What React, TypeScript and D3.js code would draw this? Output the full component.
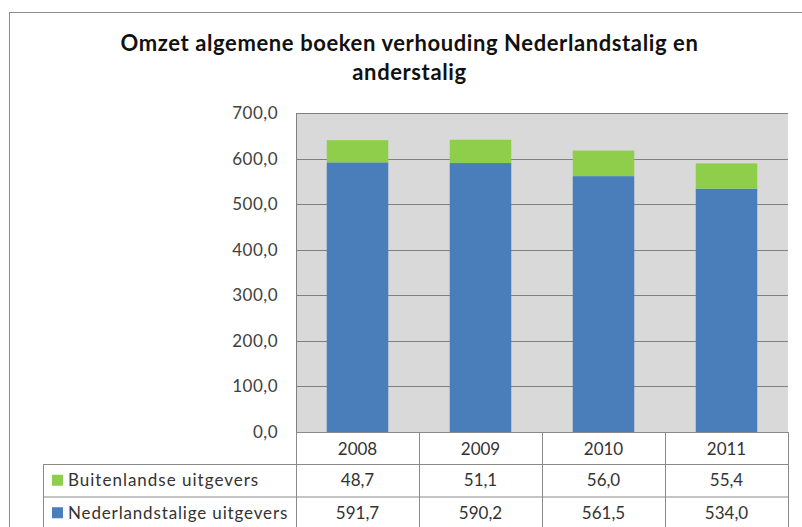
import React, { useEffect } from "react";
import * as d3 from "d3";

const years = ["2008", "2009", "2010", "2011"];
const buitenlandse = [48.7, 51.1, 56.0, 55.4];
const nederlandstalige = [591.7, 590.2, 561.5, 534.0];
const yTicks = [0, 100, 200, 300, 400, 500, 600, 700];
const titleLines = ["Omzet algemene boeken verhouding Nederlandstalig en", "anderstalig"];
const seriesNames = ["Nederlandstalige uitgevers", "Buitenlandse uitgevers"];
const seriesColors = ["#4a7ebb", "#8fce4b"];

const nl = d3.formatLocale({ decimal: ",", thousands: ".", grouping: [3], currency: ["", ""] });
const fmt = nl.format(".1f");

const W = 802;
const H = 527;
const plotL = 296;
const plotR = 788;
const plotT = 113;
const plotB = 432;
const rowTops = [432, 464, 496.5, 529];
const legendL = 43;
const FONT = "Lato, 'Open Sans', sans-serif";

export default function App() {
  useEffect(() => {
    document.body.style.margin = "0";
  }, []);

  const x = d3.scaleBand<string>().domain(years).range([plotL, plotR]).paddingInner(0.5).paddingOuter(0.25);
  const y = d3.scaleLinear().domain([0, 700]).range([plotB, plotT]);

  const rows = years.map((yr, i) => ({ year: yr, ned: nederlandstalige[i], bui: buitenlandse[i] }));
  const stack = d3.stack<any>().keys(["ned", "bui"]);
  const stacked = stack(rows);

  const colEdges = years.map((yr) => (x(yr)! - x.step() * 0.25));
  colEdges.push(plotR);

  const tableRows = [
    { name: seriesNames[1], color: seriesColors[1], values: buitenlandse, ls: 1.0 },
    { name: seriesNames[0], color: seriesColors[0], values: nederlandstalige, ls: 0.85 },
  ];

  const lineColor = "#8a8a8a";

  return (
    <svg width={W} height={H} style={{ display: "block", background: "#fff" }}>
      <rect x={9.5} y={12.5} width={W + 10} height={H + 10} fill="#fff" stroke="#8c8c8c" />
      {titleLines.map((t, i) => (
        <text key={i} x={409.5} y={50.5 + i * 29.5} textAnchor="middle" fontFamily={FONT} fontWeight={700} fontSize={22} letterSpacing={0.6} fill="#111">
          {t}
        </text>
      ))}
      <rect x={plotL} y={plotT} width={plotR - plotL} height={plotB - plotT} fill="#d9d9d9" />
      {yTicks.map((t) => (
        <g key={t}>
          {t > 0 && <line x1={plotL} x2={plotR} y1={Math.round(y(t)) + 0.5} y2={Math.round(y(t)) + 0.5} stroke="#808080" strokeWidth={1} />}
          <text x={278} y={y(t)} dy="0.35em" textAnchor="end" fontFamily={FONT} fontSize={17} letterSpacing={0.5} fill="#404040">
            {fmt(t)}
          </text>
        </g>
      ))}
      {stacked.map((s, si) => (
        <g key={si} fill={seriesColors[si]}>
          {s.map((d, i) => (
            <rect key={i} x={x(years[i])} width={x.bandwidth()} y={y(d[1])} height={y(d[0]) - y(d[1])} />
          ))}
        </g>
      ))}
      <line x1={plotL + 0.5} x2={plotL + 0.5} y1={plotT} y2={plotB} stroke="#808080" />
      {/* data table */}
      <line x1={plotL} x2={plotR} y1={rowTops[0] + 0.5} y2={rowTops[0] + 0.5} stroke={lineColor} />
      <line x1={legendL} x2={plotR} y1={rowTops[1] + 0.5} y2={rowTops[1] + 0.5} stroke={lineColor} />
      <line x1={legendL} x2={plotR} y1={rowTops[2] + 0.5} y2={rowTops[2] + 0.5} stroke={lineColor} />
      <line x1={legendL} x2={plotR} y1={rowTops[3] + 0.5} y2={rowTops[3] + 0.5} stroke={lineColor} />
      <line x1={legendL + 0.5} x2={legendL + 0.5} y1={rowTops[1]} y2={rowTops[3]} stroke={lineColor} />
      {colEdges.map((cx, i) => (
        <line key={i} x1={Math.round(cx) + 0.5} x2={Math.round(cx) + 0.5} y1={rowTops[0]} y2={rowTops[3]} stroke={lineColor} />
      ))}
      {years.map((yr) => (
        <text key={yr} x={x(yr)! + x.bandwidth() / 2} y={(rowTops[0] + rowTops[1]) / 2 + 1} dy="0.35em" textAnchor="middle" fontFamily={FONT} fontSize={17} fill="#333">
          {yr}
        </text>
      ))}
      {tableRows.map((r, ri) => {
        const cy = (rowTops[ri + 1] + rowTops[ri + 2]) / 2;
        return (
          <g key={ri}>
            <rect x={52} y={cy - 5.5} width={11} height={11} fill={r.color} />
            <text x={68} y={cy} dy="0.35em" fontFamily={FONT} fontSize={17} fill="#333" letterSpacing={r.ls}>
              {r.name}
            </text>
            {r.values.map((v, i) => (
              <text key={i} x={x(years[i])! + x.bandwidth() / 2} y={cy} dy="0.35em" textAnchor="middle" fontFamily={FONT} fontSize={17} fill="#333">
                {fmt(v)}
              </text>
            ))}
          </g>
        );
      })}
    </svg>
  );
}
